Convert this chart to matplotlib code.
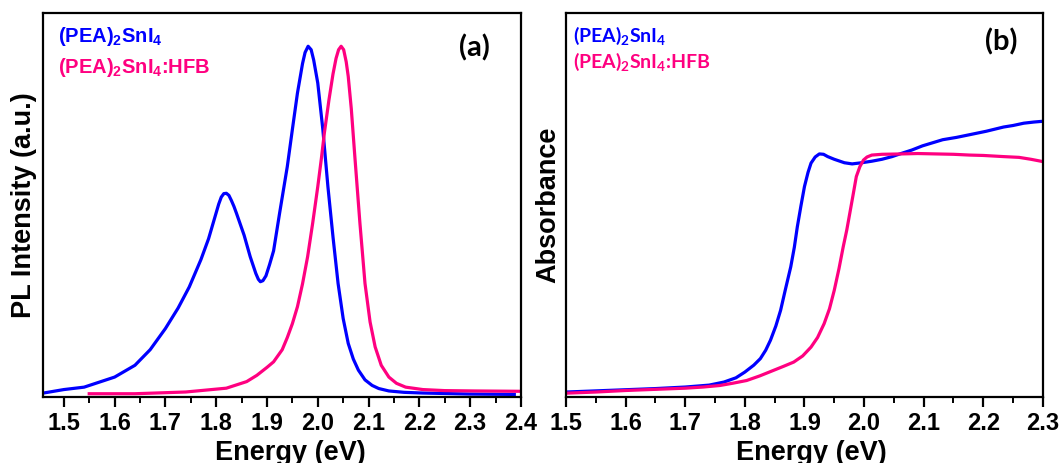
import numpy as np
import matplotlib
matplotlib.use("Agg")
import matplotlib.pyplot as plt
from matplotlib.ticker import MultipleLocator

# ---- PL spectra (normalised intensity) ----
pl_energy_pea = [1.46, 1.50, 1.54, 1.60, 1.64, 1.67, 1.70, 1.725, 1.747, 1.77, 1.785, 1.80,
                 1.805, 1.81, 1.815, 1.82, 1.825, 1.83, 1.835, 1.84, 1.855, 1.867, 1.878,
                 1.883, 1.887, 1.892, 1.898, 1.905, 1.913, 1.925, 1.94, 1.95, 1.96, 1.97,
                 1.975, 1.981, 1.987, 1.992, 2.0, 2.01, 2.02, 2.03, 2.04, 2.05, 2.06, 2.07,
                 2.08, 2.093, 2.107, 2.12, 2.14, 2.17, 2.207, 2.30, 2.387]
pl_int_pea = [0.0, 0.01, 0.017, 0.046, 0.08, 0.125, 0.186, 0.245, 0.306, 0.385, 0.445, 0.52,
              0.545, 0.565, 0.575, 0.576, 0.57, 0.555, 0.538, 0.518, 0.455, 0.393, 0.345,
              0.328, 0.321, 0.324, 0.338, 0.37, 0.41, 0.52, 0.653, 0.76, 0.865, 0.95,
              0.982, 1.0, 0.99, 0.96, 0.894, 0.76, 0.595, 0.45, 0.316, 0.215, 0.143, 0.098,
              0.066, 0.038, 0.022, 0.013, 0.006, 0.002, 0.0, -0.003, -0.004]

pl_energy_hfb = [1.55, 1.64, 1.74, 1.82, 1.86, 1.88, 1.90, 1.913, 1.93, 1.94, 1.95, 1.96,
                 1.97, 1.98, 1.99, 2.0, 2.007, 2.013, 2.022, 2.03, 2.036, 2.041, 2.046,
                 2.051, 2.056, 2.06, 2.066, 2.073, 2.083, 2.093, 2.103, 2.113, 2.125, 2.14,
                 2.155, 2.173, 2.207, 2.25, 2.307, 2.40]
pl_int_hfb = [-0.002, -0.002, 0.003, 0.014, 0.033, 0.051, 0.074, 0.09, 0.125, 0.16, 0.2, 0.249,
              0.315, 0.393, 0.49, 0.595, 0.675, 0.75, 0.845, 0.92, 0.965, 0.99, 1.0,
              0.99, 0.955, 0.913, 0.82, 0.682, 0.49, 0.316, 0.205, 0.133, 0.08, 0.046,
              0.028, 0.017, 0.01, 0.007, 0.006, 0.005]

# ---- Absorption spectra ----
abs_energy_pea = [1.50, 1.55, 1.60, 1.65, 1.70, 1.74, 1.765, 1.785, 1.80, 1.815, 1.826, 1.835,
                  1.843, 1.852, 1.86, 1.868, 1.877, 1.883, 1.888, 1.894, 1.90, 1.906, 1.911,
                  1.918, 1.925, 1.932, 1.939, 1.95, 1.967, 1.98, 1.996, 2.013, 2.03, 2.047,
                  2.064, 2.08, 2.098, 2.115, 2.132, 2.155, 2.177, 2.205, 2.234, 2.25, 2.268,
                  2.285, 2.30]
abs_pea = [0.013, 0.016, 0.019, 0.022, 0.026, 0.031, 0.039, 0.05, 0.065, 0.083, 0.1, 0.122,
           0.148, 0.185, 0.226, 0.28, 0.339, 0.39, 0.443, 0.497, 0.548, 0.585, 0.609,
           0.625, 0.633, 0.632, 0.626, 0.619, 0.61, 0.607, 0.61, 0.614, 0.619, 0.626,
           0.635, 0.643, 0.654, 0.662, 0.67, 0.676, 0.683, 0.692, 0.703, 0.707, 0.713,
           0.716, 0.718]

abs_energy_hfb = [1.50, 1.55, 1.60, 1.65, 1.70, 1.73, 1.758, 1.78, 1.803, 1.825, 1.849, 1.865,
                  1.882, 1.897, 1.911, 1.922, 1.933, 1.942, 1.95, 1.958, 1.965, 1.971, 1.976,
                  1.982, 1.987, 1.993, 1.999, 2.005, 2.013, 2.03, 2.064, 2.09, 2.12, 2.15,
                  2.177, 2.2, 2.234, 2.26, 2.28, 2.30]
abs_hfb = [0.01, 0.013, 0.017, 0.02, 0.023, 0.026, 0.03, 0.036, 0.043, 0.055, 0.07, 0.08,
           0.091, 0.107, 0.13, 0.155, 0.191, 0.23, 0.278, 0.335, 0.391, 0.435, 0.478,
           0.53, 0.574, 0.6, 0.617, 0.625, 0.63, 0.632, 0.633, 0.634, 0.633, 0.632,
           0.63, 0.629, 0.626, 0.624, 0.619, 0.613]

BLUE = "#0000FF"
PINK = "#FF0080"
LW = 2.3

plt.rcParams["font.family"] = ["Liberation Sans", "DejaVu Sans"]
plt.rcParams["font.weight"] = "bold"
# subscripts: \mathsf -> Arial-like bold, \mathbf -> Calibri-like bold
plt.rcParams["mathtext.fontset"] = "custom"
plt.rcParams["mathtext.sf"] = "Liberation Sans:bold"
plt.rcParams["mathtext.bf"] = "Lato:bold"

fig = plt.figure(figsize=(10.62, 4.63), dpi=100)
ax1 = fig.add_axes([0.0405, 0.1425, 0.450, 0.8295])
ax2 = fig.add_axes([0.533, 0.1425, 0.449, 0.8295])


def style_axes(ax, xlim, ylim, ylabel, xlab_x, ylab_x):
    ax.set_xlim(*xlim)
    ax.set_ylim(*ylim)
    ax.xaxis.set_major_locator(MultipleLocator(0.1))
    ax.xaxis.set_minor_locator(MultipleLocator(0.05))
    ax.xaxis.set_major_formatter(plt.FormatStrFormatter("%.1f"))
    ax.set_yticks([])
    ax.tick_params(axis="x", which="major", direction="out", length=7, width=1.6,
                   labelsize=17, pad=4)
    ax.tick_params(axis="x", which="minor", direction="out", length=4, width=1.4)
    for lab in ax.get_xticklabels():
        lab.set_fontweight("bold")
    for sp in ax.spines.values():
        sp.set_linewidth(1.6)
    ax.set_xlabel("Energy (eV)", fontsize=19.5, fontweight="bold")
    ax.xaxis.set_label_coords(xlab_x, -0.113)
    ax.set_ylabel(ylabel, fontsize=19.5, fontweight="bold")
    ax.yaxis.set_label_coords(ylab_x, 0.5)


# (a) photoluminescence
ax1.plot(pl_energy_pea, pl_int_pea, color=BLUE, lw=LW)
ax1.plot(pl_energy_hfb, pl_int_hfb, color=PINK, lw=LW)
style_axes(ax1, (1.459, 2.4), (-0.0115, 1.096), "PL Intensity (a.u.)", 0.518, -0.012)
ax1.text(0.031, 0.925, r"(PEA)$_\mathsf{2}$SnI$_\mathsf{4}$", transform=ax1.transAxes,
         color=BLUE, fontsize=14.5, fontweight="bold", va="baseline")
ax1.text(0.031, 0.844, r"(PEA)$_\mathsf{2}$SnI$_\mathsf{4}$:HFB", transform=ax1.transAxes,
         color=PINK, fontsize=14.5, fontweight="bold", va="baseline")
ax1.text(0.903, 0.908, "(a)", transform=ax1.transAxes, fontsize=21,
         fontweight="bold", family=["Lato", "DejaVu Sans"], ha="center", va="center")

# (b) absorption
ax2.plot(abs_energy_pea, abs_pea, color=BLUE, lw=LW)
ax2.plot(abs_energy_hfb, abs_hfb, color=PINK, lw=LW)
style_axes(ax2, (1.5, 2.3), (0.0, 1.0), "Absorbance", 0.514, -0.0105)
ax2.text(0.015, 0.9245, r"(PEA)$_\mathbf{2}$SnI$_\mathbf{4}$", transform=ax2.transAxes,
         color=BLUE, fontsize=14, fontweight="bold", family=["Lato", "DejaVu Sans"],
         va="baseline")
ax2.text(0.015, 0.857, r"(PEA)$_\mathbf{2}$SnI$_\mathbf{4}$:HFB", transform=ax2.transAxes,
         color=PINK, fontsize=14, fontweight="bold", family=["Lato", "DejaVu Sans"],
         va="baseline")
ax2.text(0.913, 0.926, "(b)", transform=ax2.transAxes, fontsize=21,
         fontweight="bold", family=["Lato", "DejaVu Sans"], ha="center", va="center")

fig.savefig("out.png", dpi=100)
